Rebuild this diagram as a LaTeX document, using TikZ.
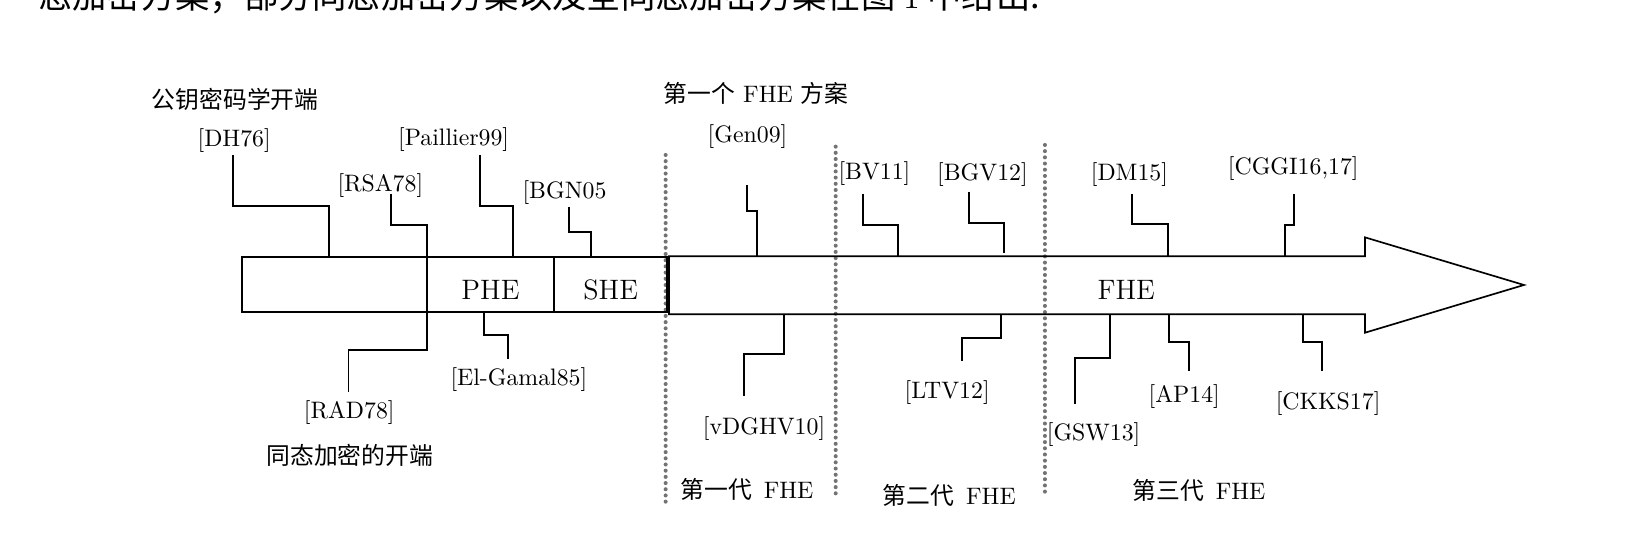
\documentclass[tikz,border=0pt]{standalone}
\usepackage{fontspec}
\newfontfamily\cjk{Noto Sans CJK SC}
\begin{document}
\begin{tikzpicture}[x=0.4425pt,y=-0.4425pt,
  lbl/.style={inner sep=0pt},
  big/.style={inner sep=0pt,font=\fontsize{11.8}{14}\selectfont},
  cn/.style={inner sep=0pt,font=\cjk},
  conn/.style={line width=0.8pt,line join=miter},
  seg/.style={draw,line width=0.7pt,inner sep=0pt,minimum height=23.19pt},
  sepline/.style={draw=black!55,line width=1.7pt,line cap=round,dash pattern=on 0pt off 2.6pt}]
\useasboundingbox (0,0) rectangle (1568,522);

% cut-off line of body text at the top
\node[anchor=base west,inner sep=0pt,font=\cjk\fontsize{14.4}{17}\selectfont] (bodytext) at (36,8.5)
  {态加密方案；部分同态加密方案以及全同态加密方案在图 {\rmfamily 1} 中给出.};

% separators
\coordinate (d1a) at (631.8,147.1); \coordinate (d1b) at (631.8,481);
\coordinate (d2a) at (793.2,139.2); \coordinate (d2b) at (793.2,471.4);
\coordinate (d3a) at (991.8,137.6); \coordinate (d3b) at (991.8,471.4);
\draw[sepline] (d1a) -- (d1b);
\draw[sepline] (d2a) -- (d2b);
\draw[sepline] (d3a) -- (d3b);

% left boxes
\node[seg,minimum width=77.7pt] (seg0) at (317.2,270.2) {};
\node[seg,minimum width=53.45pt] (seg1) at (465.4,270.2) {};
\node[seg,minimum width=47.6pt] (seg2) at (579.6,270.2) {};
\node[big] (phe) at (465.5,275) {PHE};
\node[big] (she) at (579.7,275) {SHE};

% FHE arrow
\coordinate (fT) at (635,243.3);
\coordinate (fB) at (635,298.3);
\draw[line width=0.7pt,line join=miter] (fT) -- (1295.6,243.3) -- (1295.6,225.3) -- (1446.5,270.5)
  -- (1295.6,315.8) -- (1295.6,298.3) -- (fB) -- cycle;
\node[big] (fhe) at (1069,275) {FHE};

% labels
\node[cn] (pk) at (223.2,94) {公钥密码学开端};
\node[lbl] (dh) at (222.3,133.5) {[DH76]};
\node[lbl] (rsa) at (361,176.2) {[RSA78]};
\node[lbl] (pai) at (430.6,132.2) {[Paillier99]};
\node[lbl] (bgn) at (535.8,182.9) {[BGN05};
\node[lbl] (rad) at (331.5,391.7) {[RAD78]};
\node[cn] (hestart) at (332,431.9) {同态加密的开端};
\node[lbl] (elg) at (492.5,360) {[El-Gamal85]};
\node[lbl] (first) at (717.7,88.6) {{\cjk 第一个} FHE {\cjk 方案}};
\node[lbl] (gen) at (709.5,129.7) {[Gen09]};
\node[lbl] (vdg) at (725.2,407.2) {[vDGHV10]};
\node[lbl] (g1) at (709,464.4) {{\cjk 第一代}\hspace{5pt}FHE};
\node[lbl] (bv) at (830,165.2) {[BV11]};
\node[lbl] (bgv) at (932.5,166.1) {[BGV12]};
\node[lbl] (ltv) at (899,372.4) {[LTV12]};
\node[lbl] (g2) at (901,469.8) {{\cjk 第二代}\hspace{5pt}FHE};
\node[lbl] (dm) at (1072,166.1) {[DM15]};
\node[lbl] (cggi) at (1227.5,159.8) {[CGGI16,17]};
\node[lbl] (gsw) at (1038,412.9) {[GSW13]};
\node[lbl] (ap) at (1124,376.5) {[AP14]};
\node[lbl] (ckks) at (1260.6,382.8) {[CKKS17]};
\node[lbl] (g3) at (1138,465.7) {{\cjk 第三代}\hspace{5pt}FHE};

% connector free ends
\coordinate (cdh) at (221.5,147.1);
\coordinate (crsa) at (371.1,184.1);
\coordinate (cpai) at (455.6,147.1);
\coordinate (cbgn) at (540,196.2);
\coordinate (crad) at (330.8,371.7);
\coordinate (celg) at (481.8,341);
\coordinate (cgen) at (708.7,175.6);
\coordinate (cvdg) at (706.2,375.5);
\coordinate (cbv) at (818.8,184.1);
\coordinate (cbgv) at (919.7,181.9);
\coordinate (cbgvend) at (953.2,240.5);
\coordinate (cltv) at (912.8,342.6);
\coordinate (cdm) at (1074.7,184.1);
\coordinate (ccggi) at (1228.2,184.1);
\coordinate (cgsw) at (1020.3,383.5);
\coordinate (cap) at (1128.5,352.1);
\coordinate (cckks) at (1255,351.8);

% connectors above
\draw[conn] (cdh) -- (221.5,195.2) -- (312.3,195.2) -- (312.3,0 |- seg0.north);
\draw[conn] (crsa) -- (371.1,213.6) -- (405,213.6) -- (405,0 |- seg0.north);
\draw[conn] (cpai) -- (455.6,195.2) -- (487.2,195.2) -- (487.2,0 |- seg1.north);
\draw[conn] (cbgn) -- (540,219.9) -- (560.6,219.9) -- (560.6,0 |- seg2.north);
\draw[conn] (cgen) -- (708.7,200) -- (718.2,200) -- (718.2,0 |- fT);
\draw[conn] (cbv) -- (818.8,213.6) -- (852.6,213.6) -- (852.6,0 |- fT);
\draw[conn] (cbgv) -- (919.7,211.3) -- (953.2,211.3) -- (cbgvend);
\draw[conn] (cdm) -- (1074.7,212.9) -- (1108.9,212.9) -- (1108.9,0 |- fT);
\draw[conn] (ccggi) -- (1228.2,213.6) -- (1219.7,213.6) -- (1219.7,0 |- fT);

% connectors below
\draw[conn] (405,0 |- seg0.south) -- (405,332.2) -- (330.8,332.2) -- (crad);
\draw[conn] (459.4,0 |- seg1.south) -- (459.4,318.3) -- (481.8,318.3) -- (celg);
\draw[conn] (744.1,0 |- fB) -- (744.1,336.3) -- (706.2,336.3) -- (cvdg);
\draw[conn] (949.8,0 |- fB) -- (949.8,321) -- (912.8,321) -- (cltv);
\draw[conn] (1053.5,0 |- fB) -- (1053.5,340) -- (1020.3,340) -- (cgsw);
\draw[conn] (1109.8,0 |- fB) -- (1109.8,324.9) -- (1128.5,324.9) -- (cap);
\draw[conn] (1236.4,0 |- fB) -- (1236.4,324.3) -- (1255,324.3) -- (cckks);
\end{tikzpicture}
\end{document}
